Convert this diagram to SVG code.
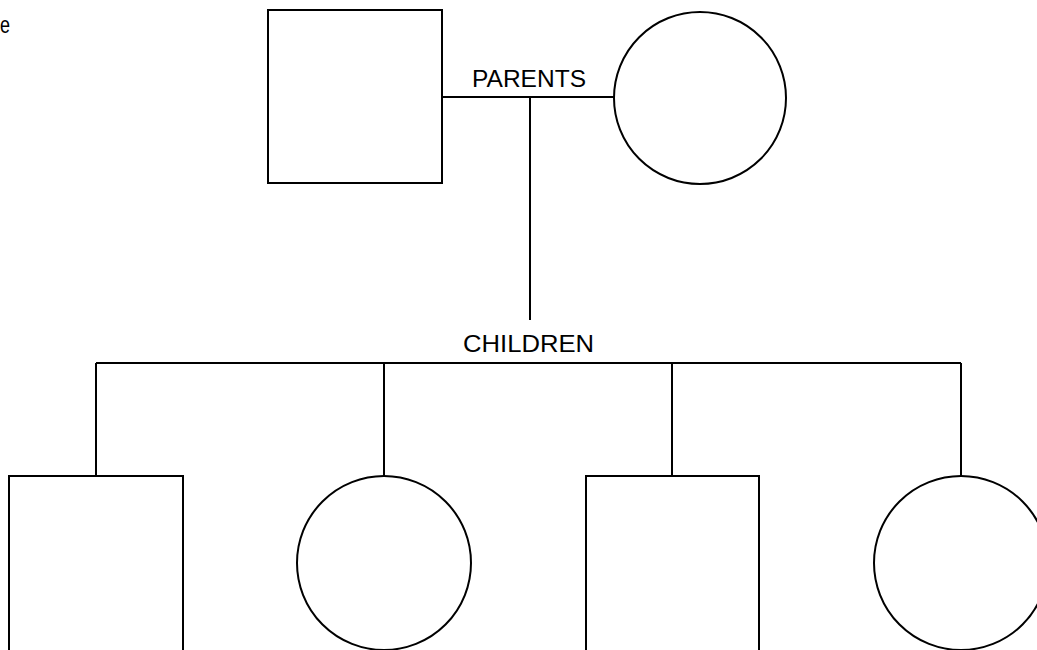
<svg xmlns="http://www.w3.org/2000/svg" width="1037" height="650" viewBox="0 0 1037 650">
<style>
.shape{fill:#fff;stroke:#000;stroke-width:2}
.conn{fill:none;stroke:#000;stroke-width:2}
.lbl{font-family:"Liberation Sans",Arial,sans-serif;font-size:24px;fill:#000}
</style>
<rect width="1037" height="650" fill="#fff"/>
<text class="lbl" x="0" y="33" textLength="10" lengthAdjust="spacingAndGlyphs">e</text>
<g id="connectors">
<line class="conn" x1="442" y1="97" x2="615" y2="97"/>
<line class="conn" x1="530" y1="97" x2="530" y2="320"/>
<line class="conn" x1="96" y1="363" x2="961" y2="363"/>
<line class="conn" x1="96" y1="363" x2="96" y2="477"/>
<line class="conn" x1="384" y1="363" x2="384" y2="477"/>
<line class="conn" x1="672" y1="363" x2="672" y2="477"/>
<line class="conn" x1="961" y1="363" x2="961" y2="477"/>
<text class="lbl" x="472" y="87" textLength="114" lengthAdjust="spacingAndGlyphs">PARENTS</text>
<text class="lbl" x="463" y="352" textLength="131" lengthAdjust="spacingAndGlyphs">CHILDREN</text>
</g>
<g id="father"><rect class="shape" x="268" y="10" width="174" height="173"/></g>
<g id="mother"><circle class="shape" cx="700" cy="98" r="86"/></g>
<g id="child1"><rect class="shape" x="9" y="476" width="174" height="176"/></g>
<g id="child2"><circle class="shape" cx="384" cy="563" r="87"/></g>
<g id="child3"><rect class="shape" x="586" y="476" width="173" height="176"/></g>
<g id="child4"><circle class="shape" cx="961" cy="563" r="87"/></g>
</svg>
